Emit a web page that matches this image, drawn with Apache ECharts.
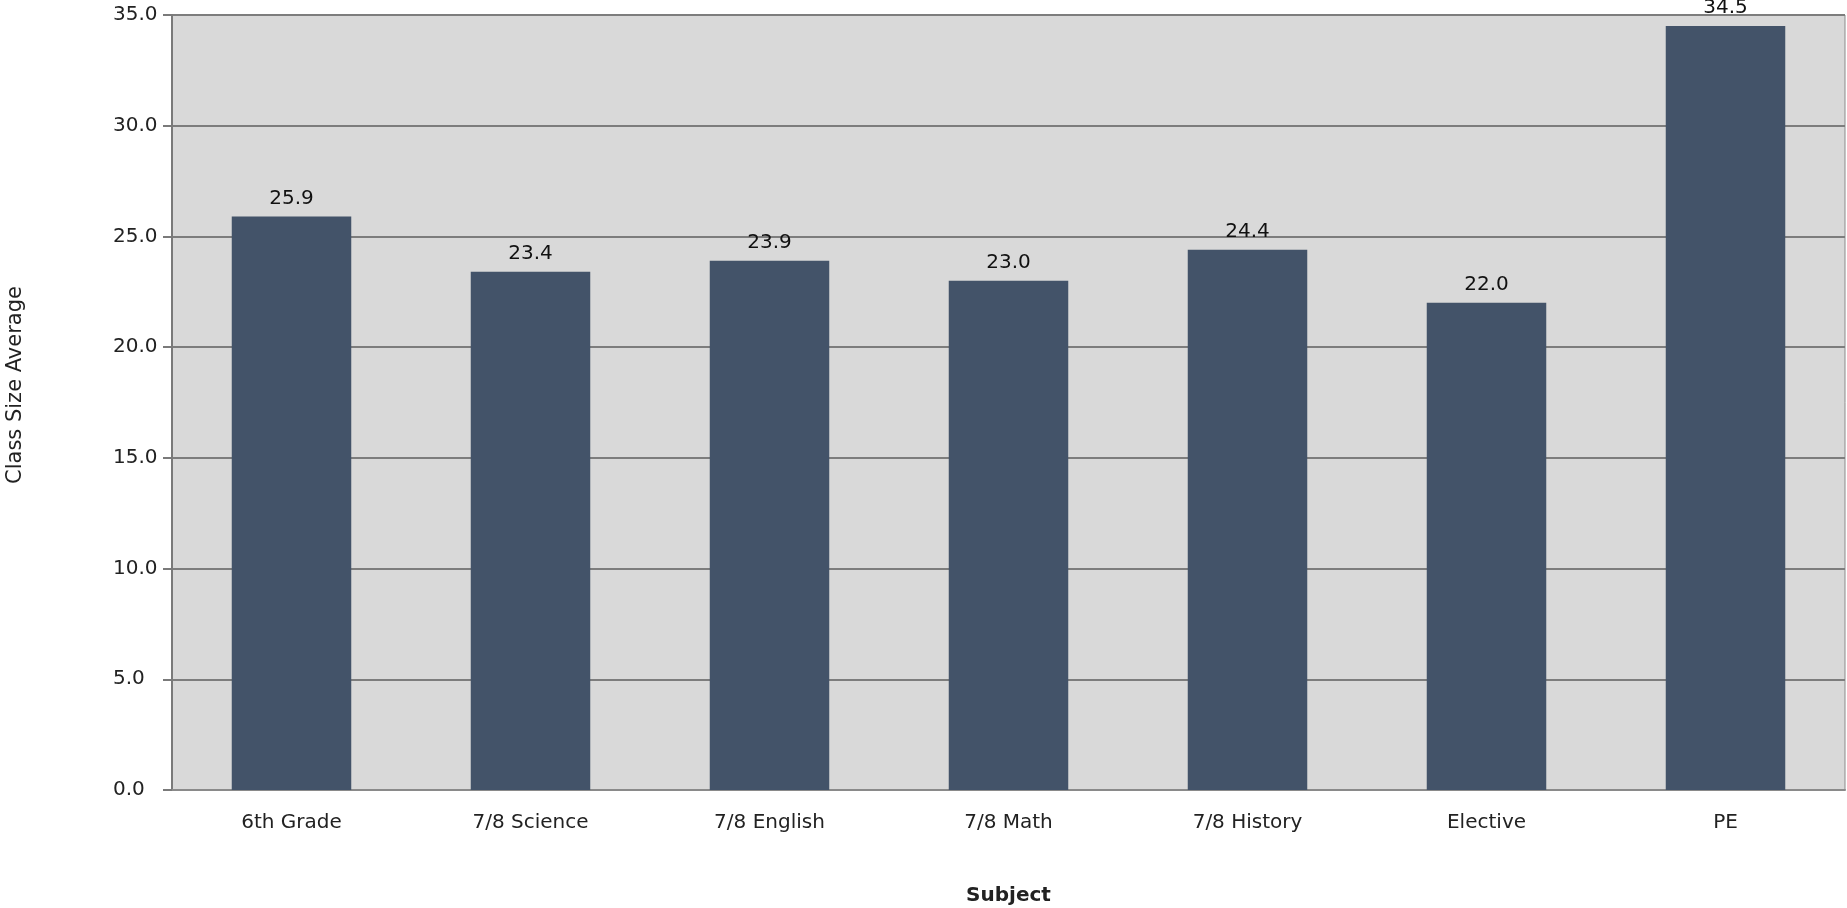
<!DOCTYPE html>
<html>
<head>
<meta charset="utf-8">
<script src="https://cdn.jsdelivr.net/npm/echarts@6/dist/echarts.min.js"></script>
<style>
html,body{margin:0;padding:0;background:#fff;}
#chart{width:1847px;height:908px;}
</style>
</head>
<body>
<div id="chart"></div>
<script>
const categories = ["6th Grade", "7/8 Science", "7/8 English", "7/8 Math", "7/8 History", "Elective", "PE"];
const classSizeAverage = [25.9, 23.4, 23.9, 23.0, 24.4, 22.0, 34.5];
const xAxisTitle = "Subject";
const yAxisTitle = "Class Size Average";

const chart = echarts.init(document.getElementById('chart'));
const FONT = 'DejaVu Sans';
chart.setOption({
  animation: false,
  backgroundColor: '#ffffff',
  grid: {
    left: 172, top: 15, right: 2, bottom: 118,
    containLabel: false,
    outerBoundsMode: 'none',
    show: true,
    backgroundColor: '#d9d9d9',
    borderColor: '#8a8a8a',
    borderWidth: 1
  },
  graphic: [{
    type: 'text',
    x: 16, y: 385,
    rotation: Math.PI / 2,
    style: {
      text: yAxisTitle,
      fontFamily: FONT, fontSize: 21, fill: '#222',
      align: 'center', verticalAlign: 'middle'
    }
  }],
  xAxis: {
    type: 'category',
    data: categories,
    name: xAxisTitle,
    nameLocation: 'middle',
    nameGap: 96,
    nameTextStyle: { fontFamily: FONT, fontSize: 20, fontWeight: 'bold', color: '#222' },
    axisLine: { show: true, lineStyle: { color: '#8a8a8a', width: 2 } },
    axisTick: { show: false },
    axisLabel: { fontFamily: FONT, fontSize: 20, color: '#222', margin: 23 },
    splitLine: { show: false }
  },
  yAxis: {
    type: 'value',
    min: 0, max: 35, interval: 5,
    axisLine: { show: true, lineStyle: { color: '#7a7a7a', width: 2 } },
    axisTick: { show: true, length: 9, lineStyle: { color: '#7a7a7a', width: 2 } },
    axisLabel: {
      fontFamily: FONT, fontSize: 20, color: '#222', margin: 59, align: 'left',
      padding: [6, 0, 0, 0],
      formatter: v => v.toFixed(1)
    },
    splitLine: { show: true, lineStyle: { color: '#7d7d7d', width: 2 } }
  },
  series: [{
    type: 'bar',
    data: classSizeAverage,
    barCategoryGap: '50%',
    itemStyle: { color: '#435369' },
    label: {
      show: true, position: 'top', distance: 8,
      fontFamily: FONT, fontSize: 20, color: '#111',
      formatter: p => p.value.toFixed(1)
    }
  }]
});
</script>
</body>
</html>
